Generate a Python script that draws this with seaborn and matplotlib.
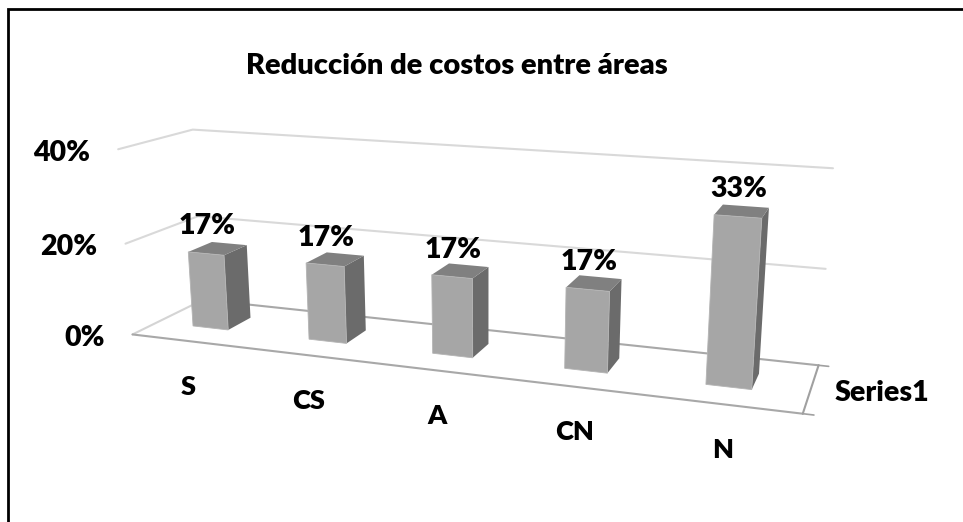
import numpy as np
import matplotlib
matplotlib.use("Agg")
import matplotlib.pyplot as plt
from matplotlib.lines import Line2D
from matplotlib.transforms import Transform, IdentityTransform
import seaborn as sns

categories = ["S", "CS", "A", "CN", "N"]
values = [16.7, 16.7, 16.7, 16.7, 33.3]
value_labels = ["17%", "17%", "17%", "17%", "33%"]
y_ticks = [0, 20, 40]
y_tick_labels = ["0%", "20%", "40%"]
series_name = "Series1"
title = "Reducción de costos entre áreas"

W, H, DPI = 963, 522, 100
sns.set_theme(style="white")
FONT = ["Lato", "DejaVu Sans"]
plt.rcParams["font.family"] = FONT
WEIGHT = "heavy"

# Box edges along the category axis (bars sit slightly left of the box centre)
XL, XR = -0.47, 4.53

# Perspective camera: (category x, value, depth) -> image pixels, fitted on the box corners
world = np.array([
    (XL, 0, 0), (XR, 0, 0), (XR, 0, 1), (XL, 0, 1),
    (XL, 20, 0), (XL, 40, 0), (XL, 20, 1), (XL, 40, 1),
    (XR, 20, 1), (XR, 40, 1)], float)
image = np.array([
    (132, 335), (803, 413), (818, 366), (204, 300),
    (125, 243), (119, 150), (198, 215), (192, 130),
    (826, 269), (833, 168)], float)
rows, rhs = [], []
for (a, b, c), (u, v) in zip(world, image):
    rows.append([a, b, c, 1, 0, 0, 0, 0, -u * a, -u * b, -u * c]); rhs.append(u)
    rows.append([0, 0, 0, 0, a, b, c, 1, -v * a, -v * b, -v * c]); rhs.append(v)
sol = np.linalg.lstsq(np.array(rows), np.array(rhs), rcond=None)[0]
P = np.append(sol, 1).reshape(3, 4)


class Camera(Transform):
    """Projects (x, value) lying on the plane of a given depth to display pixels."""
    input_dims = output_dims = 2
    is_separable = False
    has_inverse = False

    def __init__(self, plane_z=0.0):
        super().__init__()
        self.plane_z = plane_z

    def transform_non_affine(self, xy):
        xy = np.asarray(xy, float).reshape(-1, 2)
        q = np.column_stack([xy[:, 0], xy[:, 1], np.full(len(xy), self.plane_z), np.ones(len(xy))])
        p = q @ P.T
        return np.column_stack([p[:, 0] / p[:, 2], H - p[:, 1] / p[:, 2]])


def project(x, y, z):
    p = P @ np.array([x, y, z, 1.0])
    return p[0] / p[2], H - p[1] / p[2]


fig = plt.figure(figsize=(W / DPI, H / DPI), dpi=DPI, facecolor="white")
ax = fig.add_axes([0, 0, 1, 1])
BAR_W, Z_F, Z_B = 0.31, 0.34, 0.68
sns.barplot(x=categories, y=values, width=BAR_W, color="#a6a6a6", saturation=1, ax=ax, zorder=5)
front = Camera(Z_F)
for patch in ax.patches:
    patch.set_transform(front)
    patch.set_clip_on(False)
    patch.set_edgecolor("#b4b4b4")
    patch.set_linewidth(0.6)

px = IdentityTransform()

# Gridlines on the walls and the floor
for tick in y_ticks[1:]:
    a = project(XL, tick, 0); b = project(XL, tick, 1); c = project(XR, tick, 1)
    ax.plot([a[0], b[0], c[0]], [a[1], b[1], c[1]], transform=px, color="#d9d9d9", lw=1.5, clip_on=False, zorder=1)
fl = [project(XL, 0, 0), project(XL, 0, 1)]
ax.plot(*zip(*fl), transform=px, color="#d4d4d4", lw=1.5, clip_on=False, zorder=1)
for pts in ([project(XL, 0, 1), project(XR, 0, 1)], [project(XL, 0, 0), project(XR, 0, 0)]):
    ax.plot(*zip(*pts), transform=px, color="#a8a8a8", lw=1.5, clip_on=False, zorder=2)
ax.plot(*zip(project(XR, 0, 0), project(XR, 0, 1)), transform=px, color="#a0a0a0", lw=1.5, clip_on=False, zorder=2)
for z in (0, 1):
    ax.plot(*zip(project(XR, 0, z), project(XR + 0.07, 0, z)), transform=px, color="#a0a0a0", lw=1.2, clip_on=False, zorder=2)

# Side and top faces of each bar, from the same values
for i, v in enumerate(values):
    xl, xr = i - BAR_W / 2, i + BAR_W / 2
    side = [project(xr, 0, Z_F), project(xr, v, Z_F), project(xr, v, Z_B), project(xr, 0, Z_B)]
    top = [project(xl, v, Z_F), project(xr, v, Z_F), project(xr, v, Z_B), project(xl, v, Z_B)]
    ax.fill(*zip(*side), transform=px, color="#6b6b6b", clip_on=False, zorder=4, lw=0)
    ax.fill(*zip(*top), transform=px, color="#808080", clip_on=False, zorder=4, lw=0)
    cx, cy = project(i, v, Z_F)
    ax.annotate(value_labels[i], xy=(cx, cy), xycoords=px, xytext=(1, 19.5), textcoords="offset points",
                ha="center", va="center", fontsize=20.5, fontweight=WEIGHT, color="black", zorder=6,
                annotation_clip=False)
    bx, by = project(i, 0, 0)
    ax.annotate(categories[i], xy=(bx, by), xycoords=px, xytext=(1.5, -33), textcoords="offset points",
                ha="center", va="center", fontsize=19.5, fontweight=WEIGHT, color="black", annotation_clip=False)

for tick, lab in zip(y_ticks, y_tick_labels):
    tx, ty = project(XL, tick, 0)
    ax.annotate(lab, xy=(tx, ty), xycoords=px, xytext=(-20, -2.5), textcoords="offset points",
                ha="right", va="center", fontsize=20.5, fontweight=WEIGHT, color="black", annotation_clip=False)

ax.set_xlim(-.5, 4.5)
ax.set_ylim(0, 40)
ax.set_axis_off()

fig.text(457 / W, 1 - 66 / H, title, ha="center", va="center", fontsize=21, fontweight=WEIGHT, color="black")
fig.text(835 / W, 1 - 393 / H, series_name, ha="left", va="center", fontsize=20.5, fontweight=WEIGHT, color="black")

# Chart frame, cut off by the image edges
fig.add_artist(Line2D([7.5 / W, 7.5 / W, 1], [0, 1 - 8.5 / H, 1 - 8.5 / H], transform=fig.transFigure,
                      color="black", lw=2.0, solid_joinstyle="miter"))
fig.savefig("out.png", dpi=DPI, facecolor="white")
